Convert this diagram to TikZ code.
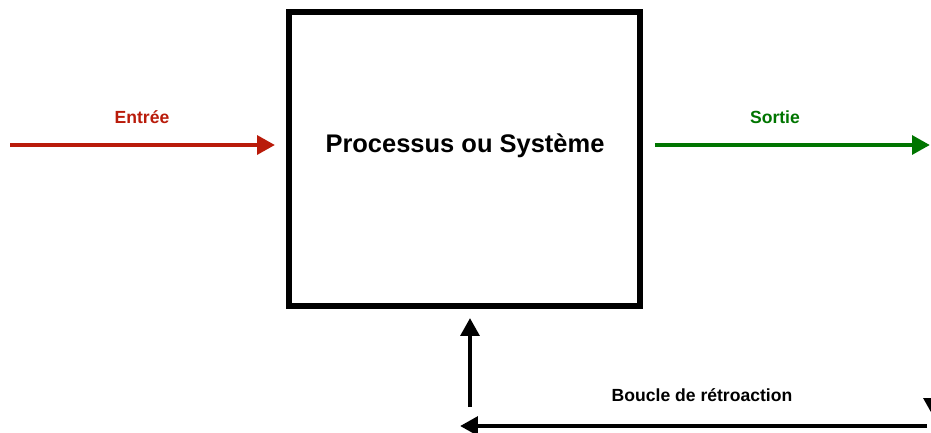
\documentclass[tikz,border=0pt]{standalone}
\usepackage{fontspec}
\setmainfont{Liberation Sans}
\usetikzlibrary{arrows.meta}
\definecolor{inred}{RGB}{185,27,10}
\definecolor{outgreen}{RGB}{0,117,0}

\begin{document}
\begin{tikzpicture}[x=0.02cm,y=-0.02cm,
		sig/.style={line width=2.7pt,-{Triangle[length=0.36cm,width=0.37cm]}},
		lab/.style={font=\bfseries\fontsize{10}{12}\selectfont,inner sep=0pt}]
			\useasboundingbox (0,0) rectangle (931,433);
			\node[draw,line width=3.4pt,minimum width=7.02cm,minimum height=5.88cm,inner sep=0pt] (sys) at (464.5,159) {};
			\node[font=\bfseries\fontsize{14.5}{17}\selectfont] (title) at (465,146) {Processus ou Système};
			\coordinate (in) at (10,145);
			\coordinate (out) at (930,145);
			\node[lab,text=inred] (inlab) at (142,117) {Entrée};
			\node[lab,text=outgreen] (outlab) at (775,117) {Sortie};
			\node[lab] (fblab) at (702,395) {Boucle de rétroaction};
			\draw[sig,inred,shorten >=0.22cm] (in) -- (sys.west |- in);
			\draw[sig,outgreen,shorten <=0.24cm] (sys.east |- out) -- (out);
			% feedback loop
			\coordinate (fbtop) at (933,160);
			\coordinate (fbdown) at (933,416);
			\coordinate (fbright) at (927,426);
			\coordinate (fbleft) at (460,426);
			\coordinate (fbup) at (470,407);
			\draw[sig] (fbtop) -- (fbdown);
			\draw[sig] (fbright) -- (fbleft);
			\draw[sig,shorten >=0.18cm] (fbup) -- (fbup |- sys.south);
			\end{tikzpicture}
\end{document}
